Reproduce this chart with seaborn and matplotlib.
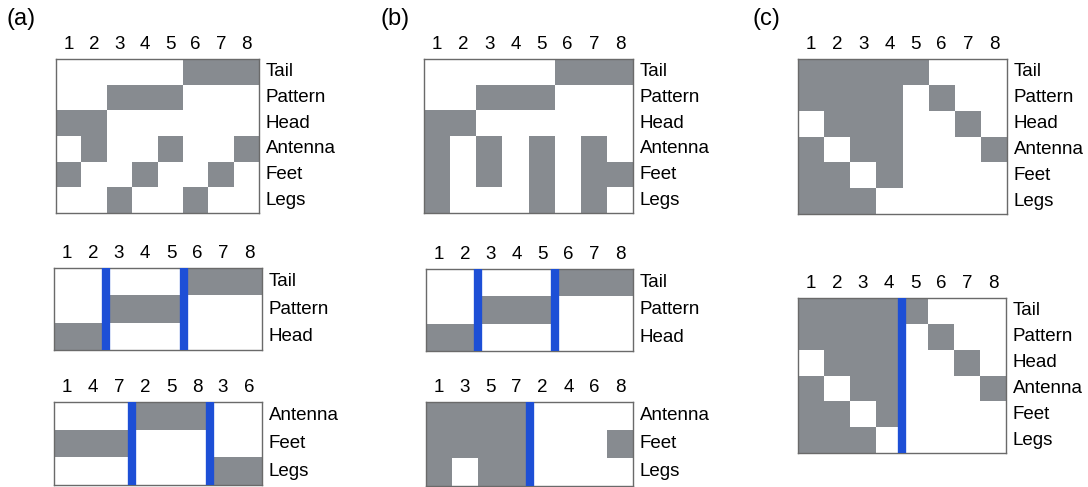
import numpy as np
import pandas as pd
import matplotlib
matplotlib.use("Agg")
import matplotlib.pyplot as plt
import seaborn as sns
from matplotlib.colors import ListedColormap

# ---------------- data ----------------
features = ["Tail", "Pattern", "Head", "Antenna", "Feet", "Legs"]
cols_default = ["1", "2", "3", "4", "5", "6", "7", "8"]

a_full = [
    [0, 0, 0, 0, 0, 1, 1, 1],
    [0, 0, 1, 1, 1, 0, 0, 0],
    [1, 1, 0, 0, 0, 0, 0, 0],
    [0, 1, 0, 0, 1, 0, 0, 1],
    [1, 0, 0, 1, 0, 0, 1, 0],
    [0, 0, 1, 0, 0, 1, 0, 0],
]
a_mid_rows = ["Tail", "Pattern", "Head"]
a_mid = [
    [0, 0, 0, 0, 0, 1, 1, 1],
    [0, 0, 1, 1, 1, 0, 0, 0],
    [1, 1, 0, 0, 0, 0, 0, 0],
]
a_mid_splits = [2, 5]
a_bot_rows = ["Antenna", "Feet", "Legs"]
a_bot_cols = ["1", "4", "7", "2", "5", "8", "3", "6"]
a_bot = [
    [0, 0, 0, 1, 1, 1, 0, 0],
    [1, 1, 1, 0, 0, 0, 0, 0],
    [0, 0, 0, 0, 0, 0, 1, 1],
]
a_bot_splits = [3, 6]

b_full = [
    [0, 0, 0, 0, 0, 1, 1, 1],
    [0, 0, 1, 1, 1, 0, 0, 0],
    [1, 1, 0, 0, 0, 0, 0, 0],
    [1, 0, 1, 0, 1, 0, 1, 0],
    [1, 0, 1, 0, 1, 0, 1, 1],
    [1, 0, 0, 0, 1, 0, 1, 0],
]
b_mid_rows = ["Tail", "Pattern", "Head"]
b_mid = [
    [0, 0, 0, 0, 0, 1, 1, 1],
    [0, 0, 1, 1, 1, 0, 0, 0],
    [1, 1, 0, 0, 0, 0, 0, 0],
]
b_mid_splits = [2, 5]
b_bot_rows = ["Antenna", "Feet", "Legs"]
b_bot_cols = ["1", "3", "5", "7", "2", "4", "6", "8"]
b_bot = [
    [1, 1, 1, 1, 0, 0, 0, 0],
    [1, 1, 1, 1, 0, 0, 0, 1],
    [1, 0, 1, 1, 0, 0, 0, 0],
]
b_bot_splits = [4]

c_full = [
    [1, 1, 1, 1, 1, 0, 0, 0],
    [1, 1, 1, 1, 0, 1, 0, 0],
    [0, 1, 1, 1, 0, 0, 1, 0],
    [1, 0, 1, 1, 0, 0, 0, 1],
    [1, 1, 0, 1, 0, 0, 0, 0],
    [1, 1, 1, 0, 0, 0, 0, 0],
]
c_bot_splits = [4]

panel_labels = ["(a)", "(b)", "(c)"]

# ---------------- style ----------------
sns.set_style("white")
plt.rcParams["font.family"] = ["Liberation Sans", "DejaVu Sans"]
plt.rcParams["text.color"] = "black"
plt.rcParams["xtick.color"] = "black"
plt.rcParams["ytick.color"] = "black"

GRAY = "#878b90"
BLUE = "#1d4fd6"
EDGE = "#6a6a6a"
cmap = ListedColormap(["white", GRAY])

W, H = 1088, 487
fig = plt.figure(figsize=(W / 100, H / 100), dpi=100)


def add_ax(x0, y0, x1, y1):
    return fig.add_axes([x0 / W, 1 - y1 / H, (x1 - x0) / W, (y1 - y0) / H])


def draw(box, mat, rows, cols, splits=()):
    ax = add_ax(*box)
    df = pd.DataFrame(mat, index=rows, columns=cols)
    sns.heatmap(df, ax=ax, cmap=cmap, vmin=0, vmax=1, cbar=False,
                linewidths=0, square=False)
    ax.xaxis.tick_top()
    ax.yaxis.tick_right()
    ax.tick_params(axis="both", length=0, labelsize=13.5, labelcolor="black")
    ax.tick_params(axis="x", pad=4)
    ax.tick_params(axis="y", pad=5)
    plt.setp(ax.get_yticklabels(), rotation=0, va="center")
    plt.setp(ax.get_xticklabels(), rotation=0)
    ax.set_xlabel("")
    ax.set_ylabel("")
    for s in ax.spines.values():
        s.set_visible(True)
        s.set_color(EDGE)
        s.set_linewidth(1.0)
    for sp in splits:
        ax.axvline(sp, color=BLUE, lw=6.0, solid_capstyle="butt", zorder=5)
    return ax


# panel (a)
draw((56, 59, 259, 213), a_full, features, cols_default)
draw((54, 268, 262, 350), a_mid, a_mid_rows, cols_default, a_mid_splits)
draw((54, 402, 262, 485), a_bot, a_bot_rows, a_bot_cols, a_bot_splits)
# panel (b)
draw((424, 59, 633, 213), b_full, features, cols_default)
draw((426, 269, 633, 351), b_mid, b_mid_rows, cols_default, b_mid_splits)
draw((426, 402, 633, 486), b_bot, b_bot_rows, b_bot_cols, b_bot_splits)
# panel (c)
draw((798, 59, 1007, 214), c_full, features, cols_default)
draw((798, 298, 1006, 453), c_full, features, cols_default, c_bot_splits)

for lbl, x in zip(panel_labels, [6, 380, 752]):
    fig.text(x / W, 1 - 8 / H, lbl, fontsize=17, va="top", ha="left",
             color="black")

fig.savefig("out.png", dpi=100)
